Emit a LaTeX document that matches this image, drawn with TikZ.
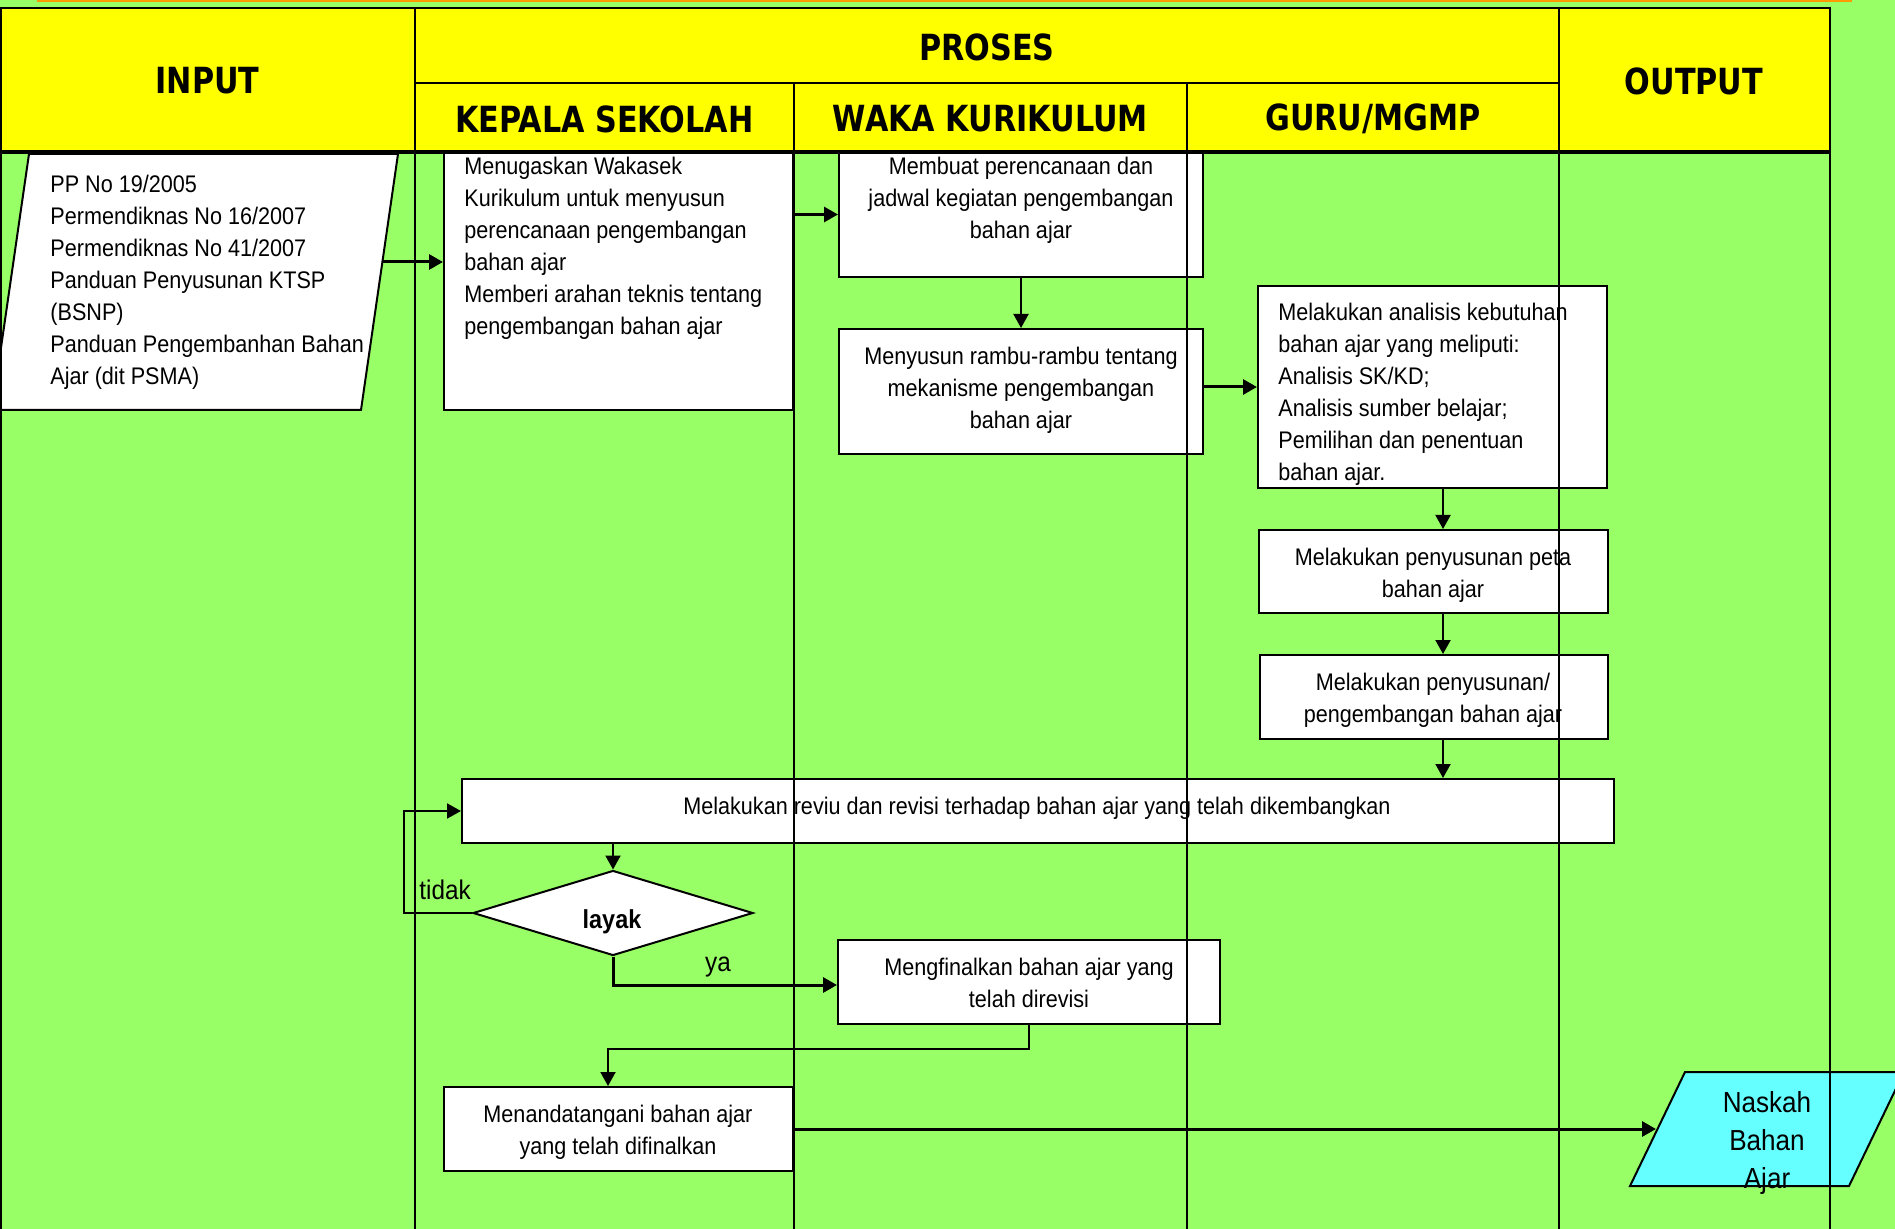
\documentclass[tikz,border=0pt]{standalone}
\usepackage{fontspec}
\setmainfont{Liberation Sans}[FakeStretch=0.9]
\newfontfamily\headf{DejaVu Sans}[FakeStretch=0.84]
\usetikzlibrary{arrows.meta,shapes.geometric}
\definecolor{bggreen}{HTML}{99FF66}
\definecolor{hdyellow}{HTML}{FFFF00}
\definecolor{outcyan}{HTML}{66FFFF}
\definecolor{toporange}{HTML}{FF9900}
\begin{document}
\begin{tikzpicture}[x=0.5pt,y=-0.5pt,line join=miter,
  box/.style={draw=black,line width=1pt,fill=white,inner sep=0pt},
  txt/.style={inner sep=0pt,font=\fontsize{12}{16}\selectfont},
  lbl/.style={inner sep=0pt,font=\fontsize{13.5}{16}\selectfont},
  arr/.style={-{Triangle[length=7pt,width=7.5pt]},line width=1pt},
  arrthick/.style={arr,line width=1.5pt},
  lane/.style={line width=1pt},
  hd/.style={inner sep=0pt,font=\headf\bfseries\fontsize{18}{22}\selectfont}]
\useasboundingbox (0,0) rectangle (1895,1229);
\clip (0,0) rectangle (1895,1229);
% background
\fill[bggreen] (0,0) rectangle (1895,1229);
\fill[toporange] (37,0) rectangle (1852,2.5);

% input parallelogram
\draw[fill=white,line width=1pt] (29,154) -- (398,154) -- (361,410) -- (-8,410) -- cycle;
\coordinate (inR) at (382,262);
\node[txt,anchor=north west,align=left] (inT) at (50,175) {PP No 19/2005\\Permendiknas No 16/2007\\Permendiknas No 41/2007\\Panduan Penyusunan KTSP\\(BSNP)\\Panduan Pengembanhan Bahan\\Ajar (dit PSMA)};

% boxes
\node[box,minimum width=174.5pt,minimum height=129pt] (k1) at (618.5,281) {};
\node[txt,anchor=north west,align=left] (k1t) at (464,157) {Menugaskan Wakasek\\Kurikulum untuk menyusun\\perencanaan pengembangan\\bahan ajar\\Memberi arahan teknis tentang\\pengembangan bahan ajar};

\node[box,minimum width=182pt,minimum height=62.5pt] (w1) at (1021,214.5) {};
\node[txt,anchor=north,align=center] (w1t) at (1021,157) {Membuat perencanaan dan\\jadwal kegiatan pengembangan\\bahan ajar};

\node[box,minimum width=182pt,minimum height=62.5pt] (w2) at (1021,391.5) {};
\node[txt,anchor=north,align=center] (w2t) at (1021,347) {Menyusun rambu-rambu tentang\\mekanisme pengembangan\\bahan ajar};

\node[box,minimum width=174.5pt,minimum height=101pt] (g1) at (1432.5,387) {};
\node[txt,anchor=north west,align=left] (g1t) at (1278,303) {Melakukan analisis kebutuhan\\bahan ajar yang meliputi:\\Analisis SK/KD;\\Analisis sumber belajar;\\Pemilihan dan penentuan\\bahan ajar.};

\node[box,minimum width=174.5pt,minimum height=41.5pt] (g2) at (1433.5,571.5) {};
\node[txt,anchor=north,align=center] (g2t) at (1433,548) {Melakukan penyusunan peta\\bahan ajar};

\node[box,minimum width=174pt,minimum height=42pt] (g3) at (1434,697) {};
\node[txt,anchor=north,align=center] (g3t) at (1433,673) {Melakukan penyusunan/\\pengembangan bahan ajar};

\node[box,minimum width=576pt,minimum height=32pt] (r) at (1038,811) {};
\node[txt,anchor=north] (rt) at (1037,797) {Melakukan reviu dan revisi terhadap bahan ajar yang telah dikembangkan};

\node[box,diamond,minimum width=140pt,minimum height=42.5pt] (d) at (613,913) {};
\node[inner sep=0pt,font=\bfseries\fontsize{13}{16}\selectfont] (dt) at (612,922) {layak};

\node[box,minimum width=191pt,minimum height=42pt] (f) at (1029,982) {};
\node[txt,anchor=north,align=center] (ftx) at (1029,958) {Mengfinalkan bahan ajar yang\\telah direvisi};

\node[box,minimum width=174.5pt,minimum height=42pt] (t) at (618.5,1129) {};
\node[txt,anchor=north,align=center] (tt) at (618,1105) {Menandatangani bahan ajar\\yang telah difinalkan};

% output parallelogram
\draw[fill=outcyan,line width=1pt] (1685,1072) -- (1904,1072) -- (1849,1186) -- (1630,1186) -- cycle;
\coordinate (nL) at (1656,1131);
\node[inner sep=0pt,anchor=north,align=center,font=\fontsize{14.5}{19}\selectfont] (nt) at (1767,1091) {Naskah\\Bahan\\Ajar};

% lane lines
\foreach \xx in {1,415,794,1187,1559,1830}
  \draw[lane] (\xx,152) -- (\xx,1240);

% header
\fill[hdyellow] (0,8) rectangle (1830,152);
\draw[lane] (1,8) rectangle (1830,152);
\draw[lane] (415,8) -- (415,152);
\draw[lane] (1559,8) -- (1559,152);
\draw[lane] (415,83) -- (1559,83);
\draw[lane] (794,83) -- (794,152);
\draw[lane] (1187,83) -- (1187,152);
\draw[line width=2.2pt] (0,152) -- (1830,152);
\node[hd] (hIn) at (207.5,81) {INPUT};
\node[hd] (hPr) at (987,47) {PROSES};
\node[hd] (hOut) at (1694,81) {OUTPUT};
\node[hd] (hKs) at (604.5,119) {KEPALA SEKOLAH};
\node[hd] (hWk) at (990.5,119) {WAKA KURIKULUM};
\node[hd] (hGu) at (1373,119) {GURU/MGMP};

% connectors
\coordinate (gx) at (1443,0);
\coordinate (lp) at (404,0);
\coordinate (ft) at (608,1049);
\draw[arrthick] (inR) -- (k1.west |- inR);
\draw[arrthick] (k1.east |- w1.west) -- (w1.west);
\draw[arr] (w1.south) -- (w2.north);
\draw[arrthick] (w2.east |- g1.west) -- (g1.west);
\draw[arr] (g1.south -| gx) -- (g2.north -| gx);
\draw[arr] (g2.south -| gx) -- (g3.north -| gx);
\draw[arr] (g3.south -| gx) -- (r.north -| gx);
\draw[arr] (r.south -| d.north) -- (d.north);
\draw[arr] (d.west) -- (d.west -| lp) |- (r.west);
\draw[arrthick] (d.south) |- ([yshift=-1.5pt]f.west);
\draw[arr] (f.south) |- (ft) -- (ft |- t.north);
\draw[arrthick] (t.east) -- (t.east -| nL);

% labels
\node[lbl,anchor=west] (lTidak) at (419,890) {tidak};
\node[lbl] (lYa) at (718,967) {ya};
\end{tikzpicture}
\end{document}
